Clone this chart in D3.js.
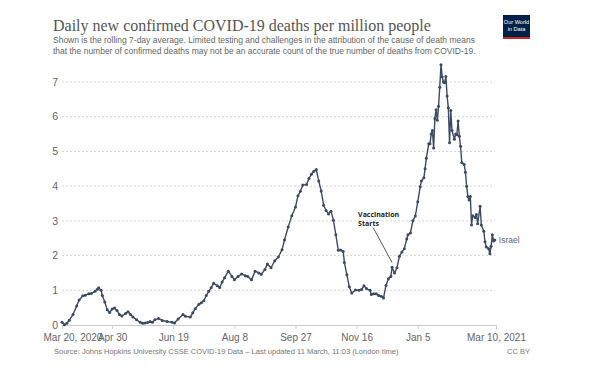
<!DOCTYPE html>
<html>
<head>
<meta charset="utf-8">
<script src="https://cdn.jsdelivr.net/npm/d3@7"></script>
<style>
  body { margin: 0; background: #fff; }
  svg { display: block; font-family: "Liberation Sans", Arial, sans-serif; }
</style>
</head>
<body>
<div id="chart"></div>
<script>
// DATA
let START_DATE = "2020-03-20"
let END_DATE = "2021-03-10"
let SERIES_NAME = "Israel"

// days since Mar 20, 2020
let DAYS = [0, 2, 4, 6, 9, 12, 14, 17, 19, 22, 24, 27, 29, 30, 32, 33, 35, 37, 39, 41,
    43, 45, 47, 49, 52, 54, 56, 58, 61, 64, 66, 68, 70, 72, 74, 76, 79, 82, 86, 90,
    92, 95, 99, 101, 105, 107, 109, 112, 114, 116, 118, 120, 122, 124, 127, 129, 131, 133, 136, 139,
    141, 144, 147, 150, 152, 155, 158, 161, 163, 166, 168, 171, 174, 177, 180, 182, 185, 188, 191, 193,
    195, 197, 200, 202, 204, 206, 208, 210, 212, 214, 216, 218, 220, 222, 224, 226, 228, 230, 231, 233,
    235, 237, 240, 243, 245, 247, 249, 252, 253, 255, 257, 259, 261, 263, 265, 267, 269, 270, 272, 274,
    276, 278, 280, 282, 283, 285, 287, 289, 291, 293, 294, 296, 297, 298, 300, 301, 302, 303, 304, 305,
    306, 307, 308, 309, 310, 311, 312, 313, 314, 315, 316, 317, 318, 319, 321, 322, 323, 324, 325, 326,
    327, 329, 330, 331, 332, 333, 334, 335, 336, 338, 339, 340, 342, 343, 345, 346, 347, 349, 350, 351,
    352, 353, 354]

// daily new confirmed deaths per million, 7-day average
let DEATHS = [0.08, 0.01, 0.05, 0.14, 0.3, 0.55, 0.72, 0.84, 0.86, 0.9, 0.91, 0.97, 1.03, 1.07, 1.0, 0.85, 0.66, 0.44, 0.36, 0.46,
    0.49, 0.42, 0.3, 0.26, 0.33, 0.38, 0.3, 0.23, 0.15, 0.08, 0.05, 0.06, 0.07, 0.1, 0.08, 0.15, 0.19, 0.13, 0.1, 0.08,
    0.06, 0.17, 0.3, 0.25, 0.23, 0.35, 0.47, 0.6, 0.64, 0.7, 0.85, 0.97, 1.07, 1.2, 1.13, 1.08, 1.24, 1.36, 1.55, 1.4,
    1.3, 1.4, 1.47, 1.42, 1.4, 1.3, 1.55, 1.5, 1.46, 1.6, 1.76, 1.65, 1.85, 1.96, 2.17, 2.45, 2.82, 3.15, 3.4, 3.72,
    3.85, 4.03, 4.05, 4.22, 4.34, 4.43, 4.48, 4.15, 3.86, 3.45, 3.3, 3.2, 3.28, 3.02, 2.6, 2.15, 2.16, 2.12, 1.8, 1.45,
    1.1, 0.92, 1.01, 1.0, 1.02, 1.13, 1.05, 1.0, 0.88, 0.9, 0.9, 0.85, 0.83, 0.78, 1.14, 1.33, 1.4, 1.66, 1.5, 1.65,
    1.98, 2.1, 2.2, 2.48, 2.6, 2.65, 3.0, 3.14, 3.55, 3.98, 4.15, 4.24, 4.5, 4.8, 5.22, 5.22, 5.5, 5.6, 5.1, 5.95,
    6.2, 5.9, 6.3, 6.85, 7.5, 7.15, 7.0, 6.98, 7.16, 6.6, 6.26, 5.25, 6.18, 5.6, 5.35, 5.5, 5.48, 5.88, 5.44, 5.15,
    4.68, 4.62, 4.4, 4.0, 3.7, 3.6, 3.7, 2.88, 3.15, 3.1, 3.18, 2.92, 3.42, 2.88, 2.7, 2.4, 2.25, 2.2, 2.05, 2.27,
    2.6, 2.42, 2.45]

let TICK_DATES = ["2020-03-20", "2020-04-30", "2020-06-19", "2020-08-08", "2020-09-27", "2020-11-16", "2021-01-05", "2021-03-10"]
let TICK_LABELS = ["Mar 20, 2020", "Apr 30", "Jun 19", "Aug 8", "Sep 27", "Nov 16", "Jan 5", "Mar 10, 2021"]
let Y_TICKS = [0, 1, 2, 3, 4, 5, 6, 7]

let ANNOTATION_DAY = 270
let ANNOTATION_VALUE = 1.8
let ANNOTATION_LINES = ["Vaccination", "Starts"]

let TITLE = "Daily new confirmed COVID-19 deaths per million people"
let SUBTITLE = ["Shown is the rolling 7-day average. Limited testing and challenges in the attribution of the cause of death means",
    "that the number of confirmed deaths may not be an accurate count of the true number of deaths from COVID-19."]
let SOURCE = "Source: Johns Hopkins University CSSE COVID-19 Data \u2013 Last updated 11 March, 11:03 (London time)"


// MAIN SCRIPT
let width = 600, height = 372
let LINE_COLOR = "#3b4a64"

let parseDate = d3.utcParse("%Y-%m-%d")
let start = parseDate(START_DATE)

let data = DAYS.map(function (d, i) {
    return { date: d3.utcDay.offset(start, d), value: DEATHS[i] }
})

let svg = d3.select("#chart")
    .append("svg")
    .attr("width", width)
    .attr("height", height)

// shrink/grow a text so it spans a given width
function fitText(sel, target) {
    let w = sel.node().getComputedTextLength()
    let fs = parseFloat(sel.attr("font-size"))
    sel.attr("font-size", fs * target / w)
}

// header
let title = svg.append("text")
    .attr("x", 53).attr("y", 31)
    .attr("font-family", "'Liberation Serif', 'DejaVu Serif', serif")
    .attr("font-size", 17)
    .attr("fill", "#555")
    .text(TITLE)
fitText(title, 378)

SUBTITLE.forEach(function (s, i) {
    let t = svg.append("text")
        .attr("x", 53).attr("y", 43 + i * 11)
        .attr("font-size", 9)
        .attr("fill", "#666")
        .text(s)
    if (i == 0) fitText(t, 422)
    else fitText(t, 423)
})

// OWID logo
let logo = svg.append("g").attr("transform", "translate(503,15)")
logo.append("rect").attr("width", 27).attr("height", 24).attr("fill", "#002147")
logo.append("rect").attr("y", 22).attr("width", 27).attr("height", 2).attr("fill", "#ce261e")
logo.append("text").attr("x", 13.5).attr("y", 9).attr("text-anchor", "middle")
    .attr("font-size", 5.6).attr("fill", "#fff").text("Our World")
logo.append("text").attr("x", 13.5).attr("y", 16).attr("text-anchor", "middle")
    .attr("font-size", 5.6).attr("fill", "#fff").text("in Data")

// scales
let x = d3.scaleUtc()
    .domain([start, parseDate(END_DATE)])
    .range([62, 496])
let y = d3.scaleLinear()
    .domain([0, 7])
    .range([325, 82])

// grid lines
svg.selectAll("myGrid")
    .data(Y_TICKS.filter(function (v) { return v > 0 }))
    .enter()
    .append("line")
    .attr("x1", x.range()[0])
    .attr("x2", x.range()[1] - 1)
    .attr("y1", function (d) { return y(d) })
    .attr("y2", function (d) { return y(d) })
    .attr("stroke", "#d6d6d6")
    .attr("stroke-width", 1)
    .attr("stroke-dasharray", "2,2")

// y labels
svg.selectAll("myYLabels")
    .data(Y_TICKS)
    .enter()
    .append("text")
    .attr("x", 58)
    .attr("y", function (d) { return y(d) })
    .attr("dy", "0.35em")
    .attr("text-anchor", "end")
    .attr("font-size", 10.5)
    .attr("fill", "#666")
    .text(function (d) { return d })

// x axis
let xAxis = svg.append("g")
    .attr("transform", "translate(0," + y(0) + ")")
    .call(d3.axisBottom(x)
        .tickValues(TICK_DATES.map(parseDate))
        .tickFormat(function (d, i) { return TICK_LABELS[i] })
        .tickSize(4)
        .tickSizeOuter(0))
xAxis.select(".domain").attr("stroke", "#ccc")
xAxis.selectAll(".tick line").attr("stroke", "#ccc")
xAxis.selectAll(".tick text")
    .attr("fill", "#666")
    .attr("font-size", 10)
    .attr("font-family", "'Liberation Sans', Arial, sans-serif")
    .attr("dy", "0.9em")
xAxis.select(".tick text").attr("text-anchor", "start").attr("x", -19)

// the series
let line = d3.line()
    .x(function (d) { return x(d.date) })
    .y(function (d) { return y(d.value) })
svg.append("path")
    .datum(data)
    .attr("d", line)
    .attr("fill", "none")
    .attr("stroke", LINE_COLOR)
    .attr("stroke-width", 1.4)
    .attr("stroke-linejoin", "round")

svg.selectAll("myDots")
    .data(data)
    .enter()
    .append("circle")
    .attr("cx", function (d) { return x(d.date) })
    .attr("cy", function (d) { return y(d.value) })
    .attr("r", 1.5)
    .attr("fill", LINE_COLOR)

// series label
let last = data[data.length - 1]
svg.append("text")
    .attr("x", x(last.date) + 4)
    .attr("y", y(last.value))
    .attr("dy", "0.35em")
    .attr("font-size", 8.5)
    .attr("fill", "#5b6780")
    .text(SERIES_NAME)

// annotation
let tipX = x(d3.utcDay.offset(start, ANNOTATION_DAY)), tipY = y(ANNOTATION_VALUE)
svg.append("line")
    .attr("x1", tipX - 19).attr("y1", tipY - 35)
    .attr("x2", tipX).attr("y2", tipY)
    .attr("stroke", "#333")
    .attr("stroke-width", 0.8)
ANNOTATION_LINES.forEach(function (s, i) {
    svg.append("text")
        .attr("x", tipX - 34)
        .attr("y", tipY - 46 + i * 9)
        .attr("font-size", 7)
        .attr("font-weight", "bold")
        .attr("font-family", "'Open Sans', 'Liberation Sans', sans-serif")
        .attr("fill", "#222")
        .text(s)
})

// footer
svg.append("text")
    .attr("x", 54).attr("y", 354)
    .attr("font-size", 7.5)
    .attr("fill", "#777")
    .text(SOURCE)
svg.append("text")
    .attr("x", 530).attr("y", 354)
    .attr("text-anchor", "end")
    .attr("font-size", 7.5)
    .attr("fill", "#777")
    .text("CC BY")
</script>
</body>
</html>
